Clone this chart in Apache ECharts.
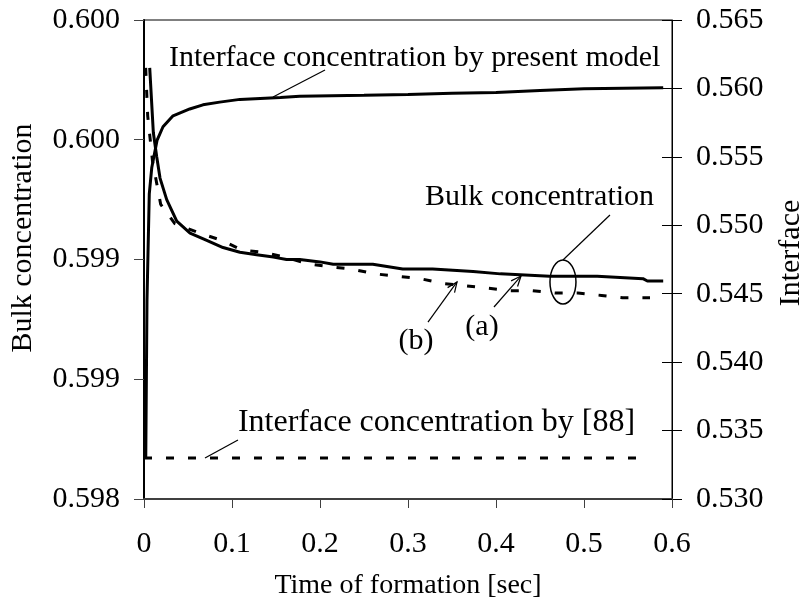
<!DOCTYPE html>
<html>
<head>
<meta charset="utf-8">
<script src="https://cdn.jsdelivr.net/npm/echarts@6/dist/echarts.min.js"></script>
<style>
  html, body { margin: 0; padding: 0; background: #fff; }
  #main { width: 804px; height: 603px; }
</style>
</head>
<body>
<div id="main"></div>
<script>
// Time of formation [sec]
const bulkATime = [0.0065, 0.0106, 0.0144, 0.0182, 0.0258, 0.0372, 0.0523, 0.0713, 0.0898, 0.109, 0.128, 0.147, 0.162, 0.177, 0.200, 0.215, 0.260, 0.294, 0.328, 0.374, 0.405, 0.461, 0.515, 0.567, 0.572, 0.590];
const bulkAValue = [0.59980, 0.59953, 0.59943, 0.59934, 0.59925, 0.59916, 0.59911, 0.59908, 0.59905, 0.59903, 0.59902, 0.59901, 0.59900, 0.59900, 0.59899, 0.59898, 0.59898, 0.59896, 0.59896, 0.59895, 0.59894, 0.59893, 0.59893, 0.59892, 0.59891, 0.59891];

const bulkBTime = [0.0019, 0.0042, 0.0068, 0.0097, 0.019, 0.035, 0.0636, 0.0883, 0.111, 0.135, 0.160, 0.189, 0.211, 0.236, 0.2625, 0.289, 0.314, 0.340, 0.366, 0.391, 0.416, 0.441, 0.467, 0.493, 0.520, 0.544, 0.575];
const bulkBValue = [0.59980, 0.59960, 0.59951, 0.59941, 0.59923, 0.59915, 0.59911, 0.59908, 0.59904, 0.59903, 0.59901, 0.59898, 0.59897, 0.59896, 0.59894, 0.59893, 0.59892, 0.59890, 0.59889, 0.59888, 0.59887, 0.59887, 0.59886, 0.59886, 0.59885, 0.59884, 0.59884];

const interfaceTime = [0.002, 0.0034, 0.006, 0.0088, 0.0148, 0.0216, 0.033, 0.052, 0.067, 0.086, 0.109, 0.132, 0.155, 0.177, 0.25, 0.30, 0.35, 0.40, 0.45, 0.50, 0.59];
const interfaceValue = [0.5330, 0.5445, 0.5523, 0.5542, 0.5562, 0.5572, 0.5580, 0.5585, 0.5588, 0.5590, 0.5592, 0.55927, 0.55934, 0.55942, 0.5595, 0.55956, 0.55964, 0.5597, 0.55985, 0.55998, 0.56005];

const ref88Time = [0.0, 0.575];
const ref88Value = [0.533, 0.533];

const xTickLabels = ['0', '0.1', '0.2', '0.3', '0.4', '0.5', '0.6'];
const leftTickLabels = ['0.598', '0.599', '0.599', '0.600', '0.600'];
const rightTickLabels = ['0.530', '0.535', '0.540', '0.545', '0.550', '0.555', '0.560', '0.565'];

const FONT = '"Liberation Serif", "Times New Roman", serif';
const zip = (xs, ys) => xs.map((x, i) => [x, ys[i]]);

const chart = echarts.init(document.getElementById('main'));

const lineSeries = (name, xs, ys, axis, dashed) => ({
  name, type: 'line', yAxisIndex: axis, data: zip(xs, ys),
  symbol: 'none', showSymbol: false, smooth: false, z: 3,
  lineStyle: { color: '#000', width: 3, type: dashed ? [8, 14] : 'solid', cap: 'butt' }
});

chart.setOption({
  animation: false,
  backgroundColor: '#fff',
  grid: {
    left: 144, right: 132, top: 20, bottom: 104,
    outerBoundsMode: 'none', containLabel: false,
    show: true, borderColor: '#000', borderWidth: 1
  },
  xAxis: {
    type: 'value', min: 0, max: 0.6, interval: 0.1,
    name: 'Time of formation [sec]', nameLocation: 'middle', nameGap: 87,
    nameTextStyle: { fontFamily: FONT, fontSize: 28, color: '#000', verticalAlign: 'middle' },
    axisLine: { show: true, onZero: false, lineStyle: { color: '#404040', width: 2 } },
    axisTick: { show: true, length: 9, lineStyle: { color: '#404040', width: 1 } },
    axisLabel: { margin: 30, fontFamily: FONT, fontSize: 30, color: '#000',
      formatter: v => xTickLabels[Math.round(v / 0.1)] },
    splitLine: { show: false }
  },
  yAxis: [
    {
      type: 'value', position: 'left', min: 0.598, max: 0.600, interval: 0.0005,
      axisLine: { show: true, onZero: false, lineStyle: { color: '#000', width: 2 } },
      axisTick: { show: true, length: 10, lineStyle: { color: '#444', width: 1 } },
      axisLabel: { margin: 24, fontFamily: FONT, fontSize: 30, color: '#000',
        formatter: v => leftTickLabels[Math.round((v - 0.598) / 0.0005)] },
      splitLine: { show: false }
    },
    {
      type: 'value', position: 'right', min: 0.530, max: 0.565, interval: 0.005,
      axisLine: { show: true, onZero: false, lineStyle: { color: '#000', width: 1 } },
      axisTick: { show: true, length: 10, lineStyle: { color: '#000', width: 1 } },
      axisLabel: { margin: 24, fontFamily: FONT, fontSize: 30, color: '#000',
        formatter: v => rightTickLabels[Math.round((v - 0.530) / 0.005)] },
      splitLine: { show: false }
    },
    {
      // inner half of the right-hand crossing ticks
      type: 'value', position: 'right', min: 0.530, max: 0.565, interval: 0.005,
      axisLine: { show: false, onZero: false },
      axisTick: { show: true, inside: true, length: 10, lineStyle: { color: '#000', width: 1 } },
      axisLabel: { show: false },
      splitLine: { show: false }
    }
  ],
  series: [
    lineSeries('Bulk concentration (a)', bulkATime, bulkAValue, 0, false),
    lineSeries('Bulk concentration (b)', bulkBTime, bulkBValue, 0, true),
    lineSeries('Interface concentration by present model', interfaceTime, interfaceValue, 1, false),
    lineSeries('Interface concentration by [88]', ref88Time, ref88Value, 1, true)
  ]
});

// Annotation anchors, in (time, interface-axis value) units
const notes = {
  modelText: [0.0284, 0.56222],
  modelLeader: [[0.1466, 0.55937], [0.2057, 0.56135]],
  bulkText: [0.3193, 0.55207],
  bulkLeader: [[0.5295, 0.55075], [0.4761, 0.54746]],
  ring: [0.4761, 0.54586],
  bText: [0.3091, 0.54154],
  bArrow: [[0.3227, 0.54293], [0.3557, 0.54586]],
  aText: [0.3841, 0.54257],
  aArrow: [[0.3977, 0.54403], [0.4284, 0.54629]],
  refText: [0.558, 0.53555],
  refLeader: [[0.0693, 0.533], [0.1068, 0.53431]]
};

const px = p => [chart.convertToPixel({ xAxisIndex: 0 }, p[0]), chart.convertToPixel({ yAxisIndex: 1 }, p[1])];

const label = (p, text, align, size) => {
  const [x, y] = px(p);
  return { type: 'text', x, y, z: 10,
    style: { text, fontFamily: FONT, fontSize: size || 30, fill: '#000', align: align || 'left', verticalAlign: 'middle' } };
};
const seg = (a, b, w) => {
  const [x1, y1] = px(a), [x2, y2] = px(b);
  return { type: 'line', z: 10, shape: { x1, y1, x2, y2 }, style: { stroke: '#000', lineWidth: w || 1.2 } };
};
const arrow = (a, b) => {
  const [x1, y1] = px(a), [x2, y2] = px(b);
  const ang = Math.atan2(y1 - y2, x1 - x2), len = 11, spread = 0.4;
  const h1 = [x2 + len * Math.cos(ang + spread), y2 + len * Math.sin(ang + spread)];
  const h2 = [x2 + len * Math.cos(ang - spread), y2 + len * Math.sin(ang - spread)];
  return [
    { type: 'line', z: 10, shape: { x1, y1, x2, y2 }, style: { stroke: '#000', lineWidth: 1.2 } },
    { type: 'polyline', z: 10, shape: { points: [h1, [x2, y2], h2] }, style: { stroke: '#000', fill: null, lineWidth: 1.2 } }
  ];
};

const [rcx, rcy] = px(notes.ring);

chart.setOption({
  graphic: [
    label(notes.modelText, 'Interface concentration by present model'),
    seg(notes.modelLeader[0], notes.modelLeader[1]),
    label(notes.bulkText, 'Bulk concentration'),
    seg(notes.bulkLeader[0], notes.bulkLeader[1]),
    { type: 'ellipse', z: 10, shape: { cx: rcx, cy: rcy, rx: 13, ry: 22 }, style: { stroke: '#000', fill: null, lineWidth: 1.5 } },
    label(notes.bText, '(b)', 'center'),
    ...arrow(notes.bArrow[0], notes.bArrow[1]),
    label(notes.aText, '(a)', 'center'),
    ...arrow(notes.aArrow[0], notes.aArrow[1]),
    label(notes.refText, 'Interface concentration by [88]', 'right', 32),
    seg(notes.refLeader[0], notes.refLeader[1]),
    { type: 'text', x: 23, y: 238, rotation: Math.PI / 2, z: 10,
      style: { text: 'Bulk concentration', fontFamily: FONT, fontSize: 30, fill: '#000', align: 'center', verticalAlign: 'middle' } },
    { type: 'text', x: 791, y: 253, rotation: Math.PI / 2, z: 10,
      style: { text: 'Interface', fontFamily: FONT, fontSize: 30, fill: '#000', align: 'center', verticalAlign: 'middle' } }
  ]
});
</script>
</body>
</html>
